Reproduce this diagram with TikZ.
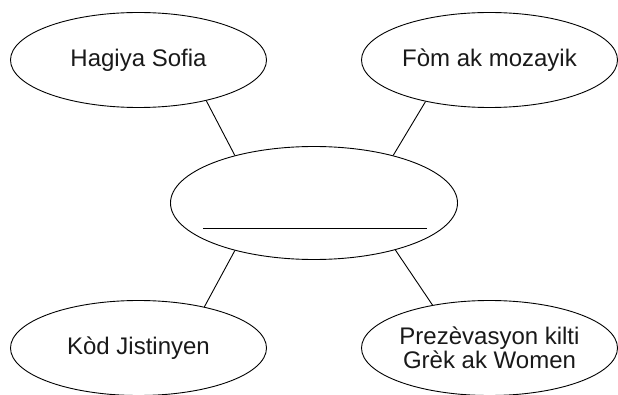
\documentclass[tikz,border=0pt]{standalone}
\usepackage{fontspec}
\setmainfont{Liberation Sans}
\usetikzlibrary{shapes.geometric,positioning}

\begin{document}
\begin{tikzpicture}[x=1pt,y=1pt,on grid,
   bubble/.style={ellipse,draw,line width=0.9pt,inner sep=0pt,
     minimum width=256pt,minimum height=95pt,align=center,
     text=black!90,font=\fontsize{24}{24}\selectfont},
   hub/.style={bubble,minimum width=287pt,minimum height=113pt}]
   \useasboundingbox (0,0) rectangle (618,394);
   \node[hub] (C) at (314,191) {};
   \node[bubble] (HS) [above left=143pt and 175.5pt of C] {Hagiya Sofia};
   \node[bubble] (FM) [above right=143pt and 175.5pt of C] {Fòm ak mozayik};
   \node[bubble] (KJ) [below left=145pt and 175.5pt of C] {Kòd Jistinyen};
   \node[bubble] (PK) [below right=145pt and 175.5pt of C] {Prezèvasyon kilti\\Grèk ak Women};
   \coordinate (blankL) at (203,166);
   \coordinate (blankR) at (427,166);
    \path[line width=0.9pt]
    (C.149) edge (HS.-31)
    (C.31) edge (FM.-147)
    (C.211) edge (KJ.32)
    (C.-30) edge (PK.143)
    (blankL) edge (blankR);
\end{tikzpicture}
\end{document}
